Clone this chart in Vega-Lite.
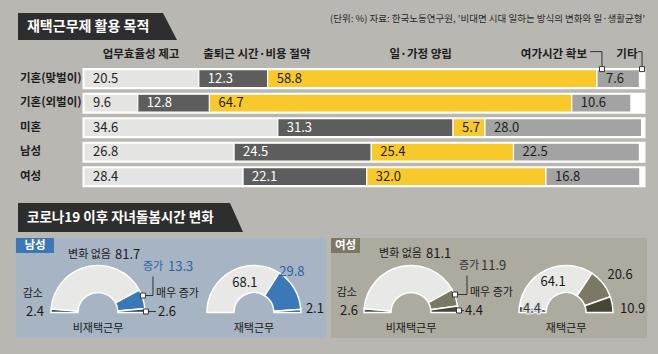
{
  "$schema": "https://vega.github.io/schema/vega-lite/v6.json",
  "background": "#b9b7b2",
  "padding": {"left": 0, "top": 0, "right": 0, "bottom": 16},
  "bounds": "flush",
  "spacing": 0,
  "config": {"view": {"stroke": null}, "font": "Noto Sans CJK KR"},
  "resolve": {"scale": {"color": "independent", "theta": "independent"}},
  "datasets": {
    "purpose": [
      {"group": "기혼(맞벌이)", "cat": "업무효율성 제고", "v": 20.5},
      {"group": "기혼(맞벌이)", "cat": "출퇴근 시간·비용 절약", "v": 12.3},
      {"group": "기혼(맞벌이)", "cat": "일·가정 양립", "v": 58.8},
      {"group": "기혼(맞벌이)", "cat": "여가시간 확보", "v": 7.6},
      {"group": "기혼(맞벌이)", "cat": "기타", "v": 0.8},
      {"group": "기혼(외벌이)", "cat": "업무효율성 제고", "v": 9.6},
      {"group": "기혼(외벌이)", "cat": "출퇴근 시간·비용 절약", "v": 12.8},
      {"group": "기혼(외벌이)", "cat": "일·가정 양립", "v": 64.7},
      {"group": "기혼(외벌이)", "cat": "여가시간 확보", "v": 10.6},
      {"group": "기혼(외벌이)", "cat": "기타", "v": 2.3},
      {"group": "미혼", "cat": "업무효율성 제고", "v": 34.6},
      {"group": "미혼", "cat": "출퇴근 시간·비용 절약", "v": 31.3},
      {"group": "미혼", "cat": "일·가정 양립", "v": 5.7},
      {"group": "미혼", "cat": "여가시간 확보", "v": 28.0},
      {"group": "미혼", "cat": "기타", "v": 0.4},
      {"group": "남성", "cat": "업무효율성 제고", "v": 26.8},
      {"group": "남성", "cat": "출퇴근 시간·비용 절약", "v": 24.5},
      {"group": "남성", "cat": "일·가정 양립", "v": 25.4},
      {"group": "남성", "cat": "여가시간 확보", "v": 22.5},
      {"group": "남성", "cat": "기타", "v": 0.8},
      {"group": "여성", "cat": "업무효율성 제고", "v": 28.4},
      {"group": "여성", "cat": "출퇴근 시간·비용 절약", "v": 22.1},
      {"group": "여성", "cat": "일·가정 양립", "v": 32.0},
      {"group": "여성", "cat": "여가시간 확보", "v": 16.8},
      {"group": "여성", "cat": "기타", "v": 0.7}
    ],
    "care": [
      {"sex": "남성", "work": "비재택근무", "cat": "감소", "v": 2.4},
      {"sex": "남성", "work": "비재택근무", "cat": "변화 없음", "v": 81.7},
      {"sex": "남성", "work": "비재택근무", "cat": "증가", "v": 13.3},
      {"sex": "남성", "work": "비재택근무", "cat": "매우 증가", "v": 2.6},
      {"sex": "남성", "work": "재택근무", "cat": "변화 없음", "v": 68.1},
      {"sex": "남성", "work": "재택근무", "cat": "증가", "v": 29.8},
      {"sex": "남성", "work": "재택근무", "cat": "매우 증가", "v": 2.1},
      {"sex": "여성", "work": "비재택근무", "cat": "감소", "v": 2.6},
      {"sex": "여성", "work": "비재택근무", "cat": "변화 없음", "v": 81.1},
      {"sex": "여성", "work": "비재택근무", "cat": "증가", "v": 11.9},
      {"sex": "여성", "work": "비재택근무", "cat": "매우 증가", "v": 4.4},
      {"sex": "여성", "work": "재택근무", "cat": "감소", "v": 4.4},
      {"sex": "여성", "work": "재택근무", "cat": "변화 없음", "v": 64.1},
      {"sex": "여성", "work": "재택근무", "cat": "증가", "v": 20.6},
      {"sex": "여성", "work": "재택근무", "cat": "매우 증가", "v": 10.9}
    ]
  },
  "vconcat": [
    {
      "width": 658,
      "height": 200,
      "data": {"name": "purpose"},
      "layer": [
        {
          "data": {"values": [{"t": "재택근무제 활용 목적"}]},
          "encoding": {
            "x": {"datum": -10.18, "type": "quantitative", "scale": {"domain": [-15, 102.5], "nice": false, "zero": false}, "axis": null},
            "y": {"datum": "title", "type": "nominal", "scale": {"type": "band", "domain": ["title", "header", "기혼(맞벌이)", "기혼(외벌이)", "미혼", "남성", "여성"], "paddingInner": 0.265, "paddingOuter": 0.711, "align": 0.59}, "axis": null}
          },
          "layer": [
            {"mark": {"type": "point", "shape": "M-9,-16.5H136L150,10.5H-9Z", "size": 4, "filled": true, "fill": "#2e2e2e", "opacity": 1, "strokeWidth": 0}},
            {"mark": {"type": "text", "align": "left", "baseline": "middle", "dy": -3, "fontSize": 14, "fontWeight": "bold", "color": "#ffffff"}, "encoding": {"text": {"field": "t"}}}
          ]
        },
        {
          "data": {"values": [{"t": "(단위: %) 자료: 한국노동연구원, '비대면 시대 일하는 방식의 변화와 일·생활균형'"}]},
          "mark": {"type": "text", "align": "right", "baseline": "middle", "dy": -11, "fontSize": 9.5, "color": "#2a2a2a"},
          "encoding": {
            "x": {"datum": 100.2, "type": "quantitative", "axis": null},
            "y": {"datum": "title", "type": "nominal", "axis": null},
            "text": {"field": "t"}
          }
        },
        {
          "transform": [{"filter": "datum.cat === '업무효율성 제고'"}],
          "mark": {"type": "bar", "color": "#ffffff", "stroke": "#ffffff", "strokeWidth": 3},
          "encoding": {
            "x": {"datum": 0, "type": "quantitative", "axis": null},
            "x2": {"datum": 100},
            "y": {"field": "group", "type": "nominal", "axis": null}
          }
        },
        {
          "transform": [{"stack": "v", "groupby": ["group"], "as": ["s0", "s1"]}],
          "mark": {"type": "bar", "stroke": "#ffffff", "strokeWidth": 1.2},
          "encoding": {
            "x": {"field": "s0", "type": "quantitative", "axis": null},
            "x2": {"field": "s1"},
            "y": {"field": "group", "type": "nominal", "axis": null},
            "color": {"field": "cat", "type": "nominal", "scale": {"domain": ["업무효율성 제고", "출퇴근 시간·비용 절약", "일·가정 양립", "여가시간 확보", "기타"], "range": ["#e4e4e2", "#5d5d5d", "#f8c92b", "#a3a3a3", "#ffffff"]}, "legend": null}
          }
        },
        {
          "transform": [{"stack": "v", "groupby": ["group"], "as": ["s0", "s1"]}, {"filter": "datum.cat !== '기타'"}],
          "mark": {"type": "text", "align": "left", "baseline": "middle", "dx": 9, "fontSize": 13, "font": "Liberation Sans Narrow, Noto Sans CJK KR, sans-serif"},
          "encoding": {
            "x": {"field": "s0", "type": "quantitative", "axis": null},
            "y": {"field": "group", "type": "nominal", "axis": null},
            "text": {"field": "v", "type": "quantitative", "format": ".1f"},
            "color": {"condition": {"test": "datum.cat === '출퇴근 시간·비용 절약'", "value": "#ffffff"}, "value": "#1e1e1e"}
          }
        },
        {
          "transform": [{"stack": "v", "groupby": ["group"], "as": ["s0", "s1"]}, {"filter": "datum.group === '기혼(맞벌이)' && datum.cat === '업무효율성 제고'"}],
          "mark": {"type": "text", "align": "center", "baseline": "middle", "dx": 57, "dy": 1, "fontSize": 11.5, "fontWeight": "bold", "color": "#1e1e1e"},
          "encoding": {"x": {"field": "s0", "type": "quantitative", "axis": null}, "y": {"datum": "header", "type": "nominal", "axis": null}, "text": {"field": "cat"}}
        },
        {
          "transform": [{"stack": "v", "groupby": ["group"], "as": ["s0", "s1"]}, {"filter": "datum.group === '기혼(맞벌이)' && datum.cat === '출퇴근 시간·비용 절약'"}],
          "mark": {"type": "text", "align": "center", "baseline": "middle", "dx": 58, "dy": 1, "fontSize": 11.5, "fontWeight": "bold", "color": "#1e1e1e"},
          "encoding": {"x": {"field": "s0", "type": "quantitative", "axis": null}, "y": {"datum": "header", "type": "nominal", "axis": null}, "text": {"field": "cat"}}
        },
        {
          "transform": [{"stack": "v", "groupby": ["group"], "as": ["s0", "s1"]}, {"filter": "datum.group === '기혼(맞벌이)' && datum.cat === '일·가정 양립'"}],
          "mark": {"type": "text", "align": "center", "baseline": "middle", "dx": 153, "dy": 1, "fontSize": 11.5, "fontWeight": "bold", "color": "#1e1e1e"},
          "encoding": {"x": {"field": "s0", "type": "quantitative", "axis": null}, "y": {"datum": "header", "type": "nominal", "axis": null}, "text": {"field": "cat"}}
        },
        {
          "transform": [{"stack": "v", "groupby": ["group"], "as": ["s0", "s1"]}, {"filter": "datum.group === '기혼(맞벌이)' && datum.cat === '여가시간 확보'"}],
          "mark": {"type": "text", "align": "right", "baseline": "middle", "dx": -10, "dy": 1, "fontSize": 11.5, "fontWeight": "bold", "color": "#1e1e1e"},
          "encoding": {"x": {"field": "s0", "type": "quantitative", "axis": null}, "y": {"datum": "header", "type": "nominal", "axis": null}, "text": {"field": "cat"}}
        },
        {
          "transform": [{"stack": "v", "groupby": ["group"], "as": ["s0", "s1"]}, {"filter": "datum.group === '기혼(맞벌이)' && datum.cat === '기타'"}],
          "mark": {"type": "text", "align": "right", "baseline": "middle", "dx": -2, "dy": 1, "fontSize": 11.5, "fontWeight": "bold", "color": "#1e1e1e"},
          "encoding": {"x": {"field": "s0", "type": "quantitative", "axis": null}, "y": {"datum": "header", "type": "nominal", "axis": null}, "text": {"field": "cat"}}
        },
        {
          "transform": [{"stack": "v", "groupby": ["group"], "as": ["s0", "s1"]}, {"filter": "datum.group === '기혼(맞벌이)' && datum.cat === '여가시간 확보'"}],
          "mark": {"type": "point", "shape": "M5,-12V-27H-7", "size": 4, "filled": false, "stroke": "#333333", "strokeWidth": 1, "opacity": 1},
          "encoding": {"x": {"field": "s0", "type": "quantitative", "axis": null}, "y": {"field": "group", "type": "nominal", "axis": null}}
        },
        {
          "transform": [{"stack": "v", "groupby": ["group"], "as": ["s0", "s1"]}, {"filter": "datum.group === '기혼(맞벌이)' && datum.cat === '기타'"}],
          "mark": {"type": "point", "shape": "M2.5,-12V-27H-1.5", "size": 4, "filled": false, "stroke": "#333333", "strokeWidth": 1, "opacity": 1},
          "encoding": {"x": {"field": "s0", "type": "quantitative", "axis": null}, "y": {"field": "group", "type": "nominal", "axis": null}}
        },
        {
          "transform": [{"stack": "v", "groupby": ["group"], "as": ["s0", "s1"]}, {"filter": "datum.group === '기혼(맞벌이)' && datum.cat === '여가시간 확보'"}],
          "mark": {"type": "point", "shape": "M2.5,-12h5v5h-5z", "size": 4, "filled": true, "fill": "#ffffff", "stroke": "#333333", "strokeWidth": 1, "opacity": 1},
          "encoding": {"x": {"field": "s0", "type": "quantitative", "axis": null}, "y": {"field": "group", "type": "nominal", "axis": null}}
        },
        {
          "transform": [{"stack": "v", "groupby": ["group"], "as": ["s0", "s1"]}, {"filter": "datum.group === '기혼(맞벌이)' && datum.cat === '기타'"}],
          "mark": {"type": "point", "shape": "M0,-12h5v5h-5z", "size": 4, "filled": true, "fill": "#ffffff", "stroke": "#333333", "strokeWidth": 1, "opacity": 1},
          "encoding": {"x": {"field": "s0", "type": "quantitative", "axis": null}, "y": {"field": "group", "type": "nominal", "axis": null}}
        },
        {
          "transform": [{"filter": "datum.cat === '업무효율성 제고'"}],
          "mark": {"type": "text", "align": "left", "baseline": "middle", "fontSize": 11.5, "fontWeight": "bold", "color": "#1e1e1e"},
          "encoding": {
            "x": {"datum": -11.43, "type": "quantitative", "axis": null},
            "y": {"field": "group", "type": "nominal", "axis": null},
            "text": {"field": "group"}
          }
        }
      ]
    },
    {
      "width": 658,
      "height": 38,
      "data": {"values": [{"t": "코로나19 이후 자녀돌봄시간 변화"}]},
      "encoding": {"x": {"datum": -10.18, "type": "quantitative", "scale": {"domain": [-15, 102.5], "nice": false, "zero": false}, "axis": null}},
      "layer": [
        {"mark": {"type": "point", "shape": "M-9,-16H203L216,13H-9Z", "size": 4, "filled": true, "fill": "#2e2e2e", "opacity": 1, "strokeWidth": 0}},
        {"mark": {"type": "text", "align": "left", "baseline": "middle", "dy": -1.5, "fontSize": 13.5, "fontWeight": "bold", "color": "#ffffff"}, "encoding": {"text": {"field": "t"}}}
      ]
    },
    {
      "spacing": 4,
      "resolve": {"scale": {"color": "independent", "theta": "independent"}},
      "hconcat": [
        {
          "width": 11,
          "height": 100,
          "data": {"values": [{}]},
          "mark": {"type": "text"},
          "encoding": {"text": {"value": ""}}
        },
        {
          "width": 310,
          "height": 100,
          "view": {"fill": "#a7b4c4", "stroke": null},
          "data": {"name": "care"},
          "transform": [{"filter": "datum.sex === '남성'"}],
          "encoding": {
            "x": {"field": "work", "type": "nominal", "scale": {"type": "point", "domain": ["비재택근무", "재택근무"], "padding": 0.494, "align": 0.532}, "axis": null},
            "y": {"datum": 0, "type": "quantitative", "scale": {"domain": [-0.342, 1], "nice": false, "zero": false}, "axis": null}
          },
          "layer": [
            {
              "transform": [{"stack": "v", "groupby": ["work"], "as": ["a0", "a1"]}],
              "mark": {"type": "arc", "outerRadius": 47, "innerRadius": 20, "stroke": "#ffffff", "strokeWidth": 1.5},
              "encoding": {
                "theta": {"field": "a0", "type": "quantitative", "scale": {"domain": [0, 100], "range": [-1.5708, 1.5708]}},
                "theta2": {"field": "a1"},
                "color": {"field": "cat", "type": "nominal", "scale": {"domain": ["감소", "변화 없음", "증가", "매우 증가"], "range": ["#2f4a66", "#e8e8e6", "#3a78b8", "#1f3f63"]}, "legend": null}
              }
            },
            {
              "transform": [{"filter": "datum.work === '비재택근무' && datum.cat === '변화 없음'"}],
              "mark": {"type": "point", "shape": "M45,-17H55V-36M48,-1H58", "size": 4, "filled": false, "stroke": "#333333", "strokeWidth": 1, "opacity": 1}
            },
            {
              "transform": [{"filter": "datum.work === '비재택근무' && datum.cat === '변화 없음'"}],
              "mark": {"type": "point", "shape": "M42.5,-19.5h5v5h-5zM45.5,-3.5h5v5h-5z", "size": 4, "filled": true, "fill": "#ffffff", "stroke": "#333333", "strokeWidth": 1, "opacity": 1}
            },
            {
              "transform": [{"filter": "datum.work === '비재택근무' && datum.cat === '변화 없음'"}],
              "mark": {"type": "text", "align": "right", "baseline": "middle", "dx": 13, "dy": -58, "fontSize": 11, "color": "#1a1a1a"},
              "encoding": {"text": {"field": "cat"}}
            },
            {
              "transform": [{"filter": "datum.work === '비재택근무' && datum.cat === '변화 없음'"}],
              "mark": {"type": "text", "align": "left", "baseline": "middle", "dx": 17, "dy": -58, "fontSize": 13, "font": "Liberation Sans Narrow, Noto Sans CJK KR, sans-serif", "color": "#1a1a1a"},
              "encoding": {"text": {"field": "v", "type": "quantitative", "format": ".1f"}}
            },
            {
              "transform": [{"filter": "datum.work === '비재택근무' && datum.cat === '증가'"}],
              "mark": {"type": "text", "align": "left", "baseline": "middle", "dx": 45, "dy": -46, "fontSize": 11, "color": "#2b64a6"},
              "encoding": {"text": {"field": "cat"}}
            },
            {
              "transform": [{"filter": "datum.work === '비재택근무' && datum.cat === '증가'"}],
              "mark": {"type": "text", "align": "left", "baseline": "middle", "dx": 70, "dy": -46, "fontSize": 13, "font": "Liberation Sans Narrow, Noto Sans CJK KR, sans-serif", "color": "#2b64a6"},
              "encoding": {"text": {"field": "v", "type": "quantitative", "format": ".1f"}}
            },
            {
              "transform": [{"filter": "datum.work === '비재택근무' && datum.cat === '매우 증가'"}],
              "mark": {"type": "text", "align": "left", "baseline": "middle", "dx": 58, "dy": -19, "fontSize": 11, "color": "#1a1a1a"},
              "encoding": {"text": {"field": "cat"}}
            },
            {
              "transform": [{"filter": "datum.work === '비재택근무' && datum.cat === '매우 증가'"}],
              "mark": {"type": "text", "align": "left", "baseline": "middle", "dx": 60, "dy": -1, "fontSize": 13, "font": "Liberation Sans Narrow, Noto Sans CJK KR, sans-serif", "color": "#1a1a1a"},
              "encoding": {"text": {"field": "v", "type": "quantitative", "format": ".1f"}}
            },
            {
              "transform": [{"filter": "datum.work === '비재택근무' && datum.cat === '감소'"}],
              "mark": {"type": "text", "align": "right", "baseline": "middle", "dx": -55, "dy": -19, "fontSize": 11, "color": "#1a1a1a"},
              "encoding": {"text": {"field": "cat"}}
            },
            {
              "transform": [{"filter": "datum.work === '비재택근무' && datum.cat === '감소'"}],
              "mark": {"type": "text", "align": "left", "baseline": "middle", "dx": -72, "dy": -1, "fontSize": 13, "font": "Liberation Sans Narrow, Noto Sans CJK KR, sans-serif", "color": "#1a1a1a"},
              "encoding": {"text": {"field": "v", "type": "quantitative", "format": ".1f"}}
            },
            {
              "transform": [{"filter": "datum.cat === '변화 없음'"}],
              "mark": {"type": "text", "align": "center", "baseline": "middle", "dy": 16, "fontSize": 11, "color": "#1a1a1a"},
              "encoding": {"text": {"field": "work"}}
            },
            {
              "transform": [{"filter": "datum.work === '재택근무' && datum.cat === '변화 없음'"}],
              "mark": {"type": "text", "align": "center", "baseline": "middle", "dx": -9, "dy": -30, "fontSize": 13, "font": "Liberation Sans Narrow, Noto Sans CJK KR, sans-serif", "color": "#1a1a1a"},
              "encoding": {"text": {"field": "v", "type": "quantitative", "format": ".1f"}}
            },
            {
              "transform": [{"filter": "datum.work === '재택근무' && datum.cat === '증가'"}],
              "mark": {"type": "text", "align": "center", "baseline": "middle", "dx": 38, "dy": -41, "fontSize": 13, "font": "Liberation Sans Narrow, Noto Sans CJK KR, sans-serif", "color": "#2b64a6"},
              "encoding": {"text": {"field": "v", "type": "quantitative", "format": ".1f"}}
            },
            {
              "transform": [{"filter": "datum.work === '재택근무' && datum.cat === '매우 증가'"}],
              "mark": {"type": "text", "align": "left", "baseline": "middle", "dx": 52, "dy": -4, "fontSize": 13, "font": "Liberation Sans Narrow, Noto Sans CJK KR, sans-serif", "color": "#1a1a1a"},
              "encoding": {"text": {"field": "v", "type": "quantitative", "format": ".1f"}}
            },
            {
              "transform": [{"filter": "datum.work === '비재택근무' && datum.cat === '변화 없음'"}],
              "encoding": {"y": {"datum": 1, "type": "quantitative", "axis": null}},
              "layer": [
                {"mark": {"type": "point", "shape": "M-82,0H-44V15H-82Z", "size": 4, "filled": true, "fill": "#3a78b8", "opacity": 1, "strokeWidth": 0}},
                {"mark": {"type": "text", "align": "center", "baseline": "middle", "dx": -63, "dy": 8, "fontSize": 11.5, "fontWeight": "bold", "color": "#ffffff"}, "encoding": {"text": {"field": "sex"}}}
              ]
            }
          ]
        },
        {
          "width": 316,
          "height": 100,
          "view": {"fill": "#adaa9f", "stroke": null},
          "data": {"name": "care"},
          "transform": [{"filter": "datum.sex === '여성'"}],
          "encoding": {
            "x": {"field": "work", "type": "nominal", "scale": {"type": "point", "domain": ["비재택근무", "재택근무"], "padding": 0.519, "align": 0.497}, "axis": null},
            "y": {"datum": 0, "type": "quantitative", "scale": {"domain": [-0.342, 1], "nice": false, "zero": false}, "axis": null}
          },
          "layer": [
            {
              "transform": [{"stack": "v", "groupby": ["work"], "as": ["a0", "a1"]}],
              "mark": {"type": "arc", "outerRadius": 47, "innerRadius": 20, "stroke": "#ffffff", "strokeWidth": 1.5},
              "encoding": {
                "theta": {"field": "a0", "type": "quantitative", "scale": {"domain": [0, 100], "range": [-1.5708, 1.5708]}},
                "theta2": {"field": "a1"},
                "color": {"field": "cat", "type": "nominal", "scale": {"domain": ["감소", "변화 없음", "증가", "매우 증가"], "range": ["#4f4f4a", "#e8e8e6", "#7b7966", "#474536"]}, "legend": null}
              }
            },
            {
              "transform": [{"filter": "datum.work === '비재택근무' && datum.cat === '변화 없음'"}],
              "mark": {"type": "point", "shape": "M44,-18H56V-37M48,-2H53", "size": 4, "filled": false, "stroke": "#333333", "strokeWidth": 1, "opacity": 1}
            },
            {
              "transform": [{"filter": "datum.work === '비재택근무' && datum.cat === '변화 없음'"}],
              "mark": {"type": "point", "shape": "M41.5,-20.5h5v5h-5zM45.5,-4.5h5v5h-5z", "size": 4, "filled": true, "fill": "#ffffff", "stroke": "#333333", "strokeWidth": 1, "opacity": 1}
            },
            {
              "transform": [{"filter": "datum.work === '비재택근무' && datum.cat === '변화 없음'"}],
              "mark": {"type": "text", "align": "right", "baseline": "middle", "dx": 11, "dy": -59, "fontSize": 11, "color": "#1a1a1a"},
              "encoding": {"text": {"field": "cat"}}
            },
            {
              "transform": [{"filter": "datum.work === '비재택근무' && datum.cat === '변화 없음'"}],
              "mark": {"type": "text", "align": "left", "baseline": "middle", "dx": 15, "dy": -59, "fontSize": 13, "font": "Liberation Sans Narrow, Noto Sans CJK KR, sans-serif", "color": "#1a1a1a"},
              "encoding": {"text": {"field": "v", "type": "quantitative", "format": ".1f"}}
            },
            {
              "transform": [{"filter": "datum.work === '비재택근무' && datum.cat === '증가'"}],
              "mark": {"type": "text", "align": "left", "baseline": "middle", "dx": 48, "dy": -47, "fontSize": 11, "color": "#333333"},
              "encoding": {"text": {"field": "cat"}}
            },
            {
              "transform": [{"filter": "datum.work === '비재택근무' && datum.cat === '증가'"}],
              "mark": {"type": "text", "align": "left", "baseline": "middle", "dx": 70, "dy": -47, "fontSize": 13, "font": "Liberation Sans Narrow, Noto Sans CJK KR, sans-serif", "color": "#333333"},
              "encoding": {"text": {"field": "v", "type": "quantitative", "format": ".1f"}}
            },
            {
              "transform": [{"filter": "datum.work === '비재택근무' && datum.cat === '매우 증가'"}],
              "mark": {"type": "text", "align": "left", "baseline": "middle", "dx": 59, "dy": -20, "fontSize": 11, "color": "#1a1a1a"},
              "encoding": {"text": {"field": "cat"}}
            },
            {
              "transform": [{"filter": "datum.work === '비재택근무' && datum.cat === '매우 증가'"}],
              "mark": {"type": "text", "align": "left", "baseline": "middle", "dx": 54, "dy": -2, "fontSize": 13, "font": "Liberation Sans Narrow, Noto Sans CJK KR, sans-serif", "color": "#1a1a1a"},
              "encoding": {"text": {"field": "v", "type": "quantitative", "format": ".1f"}}
            },
            {
              "transform": [{"filter": "datum.work === '비재택근무' && datum.cat === '감소'"}],
              "mark": {"type": "text", "align": "right", "baseline": "middle", "dx": -54, "dy": -20, "fontSize": 11, "color": "#1a1a1a"},
              "encoding": {"text": {"field": "cat"}}
            },
            {
              "transform": [{"filter": "datum.work === '비재택근무' && datum.cat === '감소'"}],
              "mark": {"type": "text", "align": "left", "baseline": "middle", "dx": -71, "dy": -2, "fontSize": 13, "font": "Liberation Sans Narrow, Noto Sans CJK KR, sans-serif", "color": "#1a1a1a"},
              "encoding": {"text": {"field": "v", "type": "quantitative", "format": ".1f"}}
            },
            {
              "transform": [{"filter": "datum.cat === '변화 없음'"}],
              "mark": {"type": "text", "align": "center", "baseline": "middle", "dy": 16, "fontSize": 11, "color": "#1a1a1a"},
              "encoding": {"text": {"field": "work"}}
            },
            {
              "transform": [{"filter": "datum.work === '재택근무' && datum.cat === '변화 없음'"}],
              "mark": {"type": "text", "align": "center", "baseline": "middle", "dx": -13, "dy": -31, "fontSize": 13, "font": "Liberation Sans Narrow, Noto Sans CJK KR, sans-serif", "color": "#1a1a1a"},
              "encoding": {"text": {"field": "v", "type": "quantitative", "format": ".1f"}}
            },
            {
              "transform": [{"filter": "datum.work === '재택근무' && datum.cat === '증가'"}],
              "mark": {"type": "text", "align": "center", "baseline": "middle", "dx": 54, "dy": -38, "fontSize": 13, "font": "Liberation Sans Narrow, Noto Sans CJK KR, sans-serif", "color": "#1a1a1a"},
              "encoding": {"text": {"field": "v", "type": "quantitative", "format": ".1f"}}
            },
            {
              "transform": [{"filter": "datum.work === '재택근무' && datum.cat === '매우 증가'"}],
              "mark": {"type": "text", "align": "left", "baseline": "middle", "dx": 54, "dy": -4, "fontSize": 13, "font": "Liberation Sans Narrow, Noto Sans CJK KR, sans-serif", "color": "#1a1a1a"},
              "encoding": {"text": {"field": "v", "type": "quantitative", "format": ".1f"}}
            },
            {
              "transform": [{"filter": "datum.work === '재택근무' && datum.cat === '감소'"}],
              "mark": {"type": "text", "align": "center", "baseline": "middle", "dx": -34, "dy": -4, "fontSize": 13, "font": "Liberation Sans Narrow, Noto Sans CJK KR, sans-serif", "color": "#dedede", "stroke": "#dedede", "strokeWidth": 3},
              "encoding": {"text": {"field": "v", "type": "quantitative", "format": ".1f"}}
            },
            {
              "transform": [{"filter": "datum.work === '재택근무' && datum.cat === '감소'"}],
              "mark": {"type": "text", "align": "center", "baseline": "middle", "dx": -34, "dy": -4, "fontSize": 13, "font": "Liberation Sans Narrow, Noto Sans CJK KR, sans-serif", "color": "#3a3a3a"},
              "encoding": {"text": {"field": "v", "type": "quantitative", "format": ".1f"}}
            },
            {
              "transform": [{"filter": "datum.work === '비재택근무' && datum.cat === '변화 없음'"}],
              "encoding": {"y": {"datum": 1, "type": "quantitative", "axis": null}},
              "layer": [
                {"mark": {"type": "point", "shape": "M-80,0H-51V15H-80Z", "size": 4, "filled": true, "fill": "#7a7763", "opacity": 1, "strokeWidth": 0}},
                {"mark": {"type": "text", "align": "center", "baseline": "middle", "dx": -65.5, "dy": 8, "fontSize": 11.5, "fontWeight": "bold", "color": "#ffffff"}, "encoding": {"text": {"field": "sex"}}}
              ]
            }
          ]
        }
      ]
    }
  ]
}
